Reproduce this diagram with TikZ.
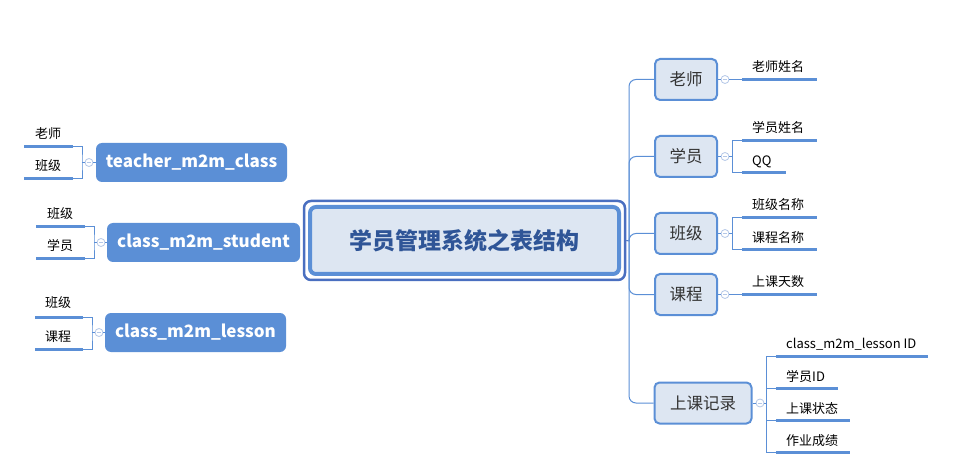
\documentclass[tikz,border=0pt]{standalone}
\usepackage{fontspec}
\setmainfont{Noto Sans CJK SC}
\definecolor{mblue}{HTML}{5B8FD6}
\definecolor{dblue}{HTML}{4A6FC0}
\definecolor{lfill}{HTML}{DDE6F2}
\definecolor{ctext}{HTML}{2F5597}
\definecolor{circ}{HTML}{B4C7E7}
\definecolor{btext}{HTML}{333333}
\tikzset{
  rbox/.style={draw=mblue, line width=2pt, fill=lfill, rounded corners=5pt, minimum height=41pt, inner sep=0pt, text=btext, font=\fontsize{16.5}{18}\selectfont},
  lbox/.style={fill=mblue, rounded corners=6pt, minimum height=39pt, inner sep=0pt, text=white, font=\fontsize{17}{19}\selectfont\bfseries},
  leaf/.style={anchor=base west, inner sep=0pt, text=black, font=\fontsize{13}{15}\selectfont},
  uline/.style={draw=mblue, line width=3pt},
  conn/.style={draw=mblue, line width=1pt},
  fold/.style={circle, draw=circ, fill=white, line width=0.8pt, minimum size=8pt, inner sep=0pt,
    path picture={\draw[circ, line width=0.8pt] ([xshift=-2pt]path picture bounding box.center) -- ([xshift=2pt]path picture bounding box.center);}},
}
\begin{document}
\begin{tikzpicture}[x=1pt, y=-1pt]
\useasboundingbox (0,0) rectangle (958,470);
% centre
\node[draw=dblue, line width=2.5pt, fill=white, rounded corners=7pt, minimum width=321pt, minimum height=79pt] (centerout) at (464.5,240.5) {};
\node[draw=mblue, line width=4pt, fill=lfill, rounded corners=6pt, minimum width=309pt, minimum height=67pt, text=ctext, font=\fontsize{23}{26}\selectfont\bfseries] (center) at (464.5,240.5) {学员管理系统之表结构};
\coordinate (trunk) at (629,241);
\draw[draw=dblue, line width=1pt] (centerout.east) -- (trunk);

% right boxes
\node[rbox, minimum width=62pt] (ls) at (686,79.5) {老师};
\node[rbox, minimum width=62pt] (xy) at (686,156.5) {学员};
\node[rbox, minimum width=62pt] (bj) at (686,233.5) {班级};
\node[rbox, minimum width=62pt] (kc) at (686,294.5) {课程};
\node[rbox, minimum width=97pt] (jl) at (703,403) {上课记录};
\foreach \n in {ls,xy,bj,kc,jl}{\draw[conn, rounded corners=7pt] (trunk) |- (\n.west);}

% 老师
\node[fold] (fls) at (725,79.5) {};
\draw[conn] (ls.east) -- (fls);
\coordinate (ls1a) at (742,79.5); \coordinate (ls1b) at (817,79.5);
\draw[conn] (fls) -- (ls1a);
\draw[uline] (ls1a) -- (ls1b);
\node[leaf] (tls1) at (752,72) {老师姓名};

% 学员
\node[fold] (fxy) at (725,156.5) {};
\draw[conn] (xy.east) -- (fxy);
\coordinate (xyb) at (732,156.5);
\coordinate (xy1a) at (742,141); \coordinate (xy1b) at (817,141);
\coordinate (xy2a) at (742,173); \coordinate (xy2b) at (786,173);
\draw[conn] (fxy) -- (xyb);
\draw[conn] (xy1a) -| (xyb) |- (xy2a);
\draw[uline] (xy1a) -- (xy1b);
\draw[uline] (xy2a) -- (xy2b);
\node[leaf] (txy1) at (752,133) {学员姓名};
\node[leaf] (txy2) at (752,166) {QQ};

% 班级
\node[fold] (fbj) at (725,233.5) {};
\draw[conn] (bj.east) -- (fbj);
\coordinate (bjb) at (732,233.5);
\coordinate (bj1a) at (742,218); \coordinate (bj1b) at (817,218);
\coordinate (bj2a) at (742,250); \coordinate (bj2b) at (817,250);
\draw[conn] (fbj) -- (bjb);
\draw[conn] (bj1a) -| (bjb) |- (bj2a);
\draw[uline] (bj1a) -- (bj1b);
\draw[uline] (bj2a) -- (bj2b);
\node[leaf] (tbj1) at (752,210) {班级名称};
\node[leaf] (tbj2) at (752,243) {课程名称};

% 课程
\node[fold] (fkc) at (725,294.5) {};
\draw[conn] (kc.east) -- (fkc);
\coordinate (kc1a) at (742,294.5); \coordinate (kc1b) at (817,294.5);
\draw[conn] (fkc) -- (kc1a);
\draw[uline] (kc1a) -- (kc1b);
\node[leaf] (tkc1) at (752,287) {上课天数};

% 上课记录
\node[fold] (fjl) at (760,403) {};
\draw[conn] (jl.east) -- (fjl);
\coordinate (jlb) at (766,403);
\coordinate (jl1a) at (776,356); \coordinate (jl1b) at (928,356);
\coordinate (jl2a) at (776,388); \coordinate (jl2b) at (838,388);
\coordinate (jl3a) at (776,420); \coordinate (jl3b) at (850,420);
\coordinate (jl4a) at (776,452); \coordinate (jl4b) at (850,452);
\draw[conn] (fjl) -- (jlb);
\draw[conn] (jl1a) -| (jlb) |- (jl4a);
\draw[conn] (jl2a) -| (jlb) |- (jl3a);
\draw[uline] (jl1a) -- (jl1b);
\draw[uline] (jl2a) -- (jl2b);
\draw[uline] (jl3a) -- (jl3b);
\draw[uline] (jl4a) -- (jl4b);
\node[leaf] (tjl1) at (786,348) {class\_m2m\_lesson ID};
\node[leaf] (tjl2) at (786,381) {学员ID};
\node[leaf] (tjl3) at (786,413) {上课状态};
\node[leaf] (tjl4) at (786,445) {作业成绩};

% left boxes
\node[lbox, minimum width=191pt] (tmc) at (191.5,162.5) {teacher\_m2m\_class};
\node[lbox, minimum width=193pt] (cms) at (203.5,242.5) {class\_m2m\_student};
\node[lbox, minimum width=181pt] (cml) at (195.5,332.5) {class\_m2m\_lesson};

% teacher_m2m_class
\node[fold] (ftmc) at (89,162.5) {};
\draw[conn] (tmc.west) -- (ftmc);
\coordinate (tmcb) at (82,162.5);
\coordinate (tmc1a) at (73,147); \coordinate (tmc1b) at (24,147);
\coordinate (tmc2a) at (73,179); \coordinate (tmc2b) at (24,179);
\draw[conn] (ftmc) -- (tmcb);
\draw[conn] (tmc1a) -| (tmcb) |- (tmc2a);
\draw[uline] (tmc1a) -- (tmc1b);
\draw[uline] (tmc2a) -- (tmc2b);
\node[leaf, anchor=base] (ttmc1) at (48,139) {老师};
\node[leaf, anchor=base] (ttmc2) at (48,171) {班级};

% class_m2m_student
\node[fold] (fcms) at (101,242.5) {};
\draw[conn] (cms.west) -- (fcms);
\coordinate (cmsb) at (94,242.5);
\coordinate (cms1a) at (85,227); \coordinate (cms1b) at (36,227);
\coordinate (cms2a) at (85,259); \coordinate (cms2b) at (36,259);
\draw[conn] (fcms) -- (cmsb);
\draw[conn] (cms1a) -| (cmsb) |- (cms2a);
\draw[uline] (cms1a) -- (cms1b);
\draw[uline] (cms2a) -- (cms2b);
\node[leaf, anchor=base] (tcms1) at (60,219) {班级};
\node[leaf, anchor=base] (tcms2) at (60,251) {学员};

% class_m2m_lesson
\node[fold] (fcml) at (99,332.5) {};
\draw[conn] (cml.west) -- (fcml);
\coordinate (cmlb) at (92,332.5);
\coordinate (cml1a) at (83,317); \coordinate (cml1b) at (35,317);
\coordinate (cml2a) at (83,349); \coordinate (cml2b) at (35,349);
\draw[conn] (fcml) -- (cmlb);
\draw[conn] (cml1a) -| (cmlb) |- (cml2a);
\draw[uline] (cml1a) -- (cml1b);
\draw[uline] (cml2a) -- (cml2b);
\node[leaf, anchor=base] (tcml1) at (58,308) {班级};
\node[leaf, anchor=base] (tcml2) at (58,341) {课程};
\end{tikzpicture}
\end{document}
